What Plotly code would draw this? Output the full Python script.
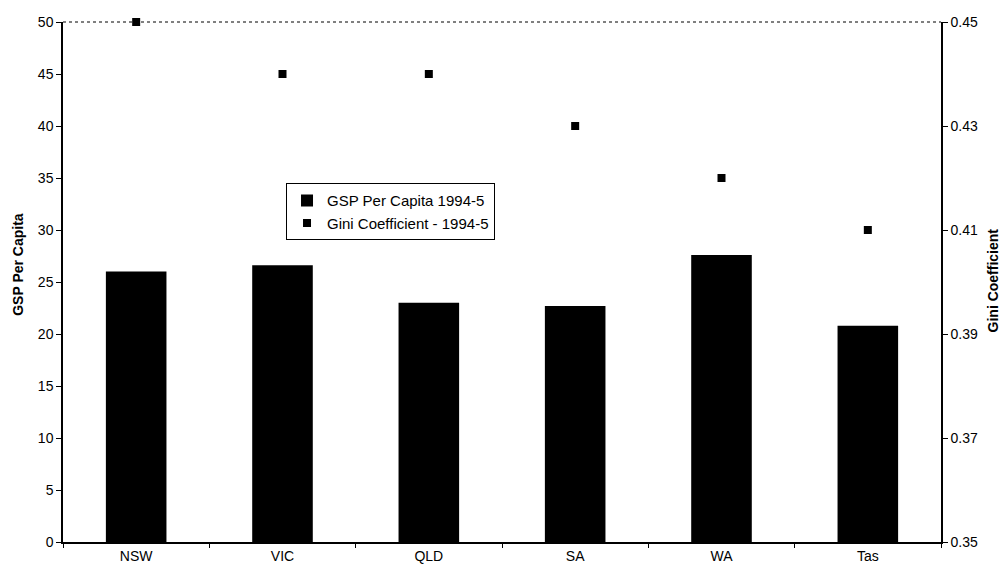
import plotly.graph_objects as go

states = ["NSW", "VIC", "QLD", "SA", "WA", "Tas"]
gsp_per_capita = [26.0, 26.6, 23.0, 22.7, 27.6, 20.8]
gini = [0.45, 0.44, 0.44, 0.43, 0.42, 0.41]
left_ticks = [0, 5, 10, 15, 20, 25, 30, 35, 40, 45, 50]
right_ticks = [0.35, 0.37, 0.39, 0.41, 0.43, 0.45]

FONT = "Liberation Sans, Arial, sans-serif"
TICKFONT = dict(size=14, family=FONT, color="black")

fig = go.Figure()
fig.add_trace(go.Bar(
    x=states, y=gsp_per_capita, name="GSP Per Capita 1994-5",
    marker=dict(color="black", line=dict(width=0)), yaxis="y"))
fig.add_trace(go.Scatter(
    x=states, y=gini, name="Gini Coefficient - 1994-5", mode="markers",
    marker=dict(symbol="square", size=8, color="black"), yaxis="y2",
    cliponaxis=False))

fig.update_layout(
    width=1001, height=576,
    margin=dict(l=63, r=60, t=22, b=28),
    paper_bgcolor="white", plot_bgcolor="white",
    font=dict(family=FONT, size=14, color="black"),
    bargap=0.586,
    showlegend=True,
    legend=dict(x=0.254, y=0.69, xanchor="left", yanchor="top",
                bgcolor="white", bordercolor="black", borderwidth=1,
                font=dict(size=15, family=FONT), itemwidth=30,
                tracegroupgap=0),
    xaxis=dict(showline=True, linecolor="black", linewidth=1.5,
               ticks="outside", ticklen=4, tickcolor="black",
               tickson="boundaries", showgrid=False, zeroline=False,
               tickfont=TICKFONT),
    yaxis=dict(range=[0, 50], tickvals=left_ticks, showline=True,
               linecolor="black", linewidth=1.5, ticks="outside",
               ticklen=5, tickcolor="black", showgrid=False,
               zeroline=False, tickfont=TICKFONT),
    yaxis2=dict(range=[0.35, 0.45], tickvals=right_ticks,
                tickformat=".2f", overlaying="y", side="right",
                showline=True, linecolor="black", linewidth=1.5,
                ticks="outside", ticklen=5, tickcolor="black",
                showgrid=False, zeroline=False, tickfont=TICKFONT),
    shapes=[dict(type="line", xref="paper", yref="paper", x0=0, x1=1,
                 y0=1, y1=1, line=dict(color="black", width=1, dash="dot"))],
    annotations=[
        dict(text="<b>GSP Per Capita</b>", xref="paper", yref="paper",
             x=(18.5 - 63) / 878, y=0.534, xanchor="center",
             yanchor="middle", textangle=-90, showarrow=False,
             font=dict(size=14, family=FONT)),
        dict(text="<b>Gini Coefficient</b>", xref="paper", yref="paper",
             x=(993 - 63) / 878, y=0.503, xanchor="center",
             yanchor="middle", textangle=-90, showarrow=False,
             font=dict(size=14, family=FONT)),
    ],
)

fig.write_html(
    "out.html",
    config={"displayModeBar": False},
    post_script="document.body.style.margin='0';document.body.style.padding='0';",
)
